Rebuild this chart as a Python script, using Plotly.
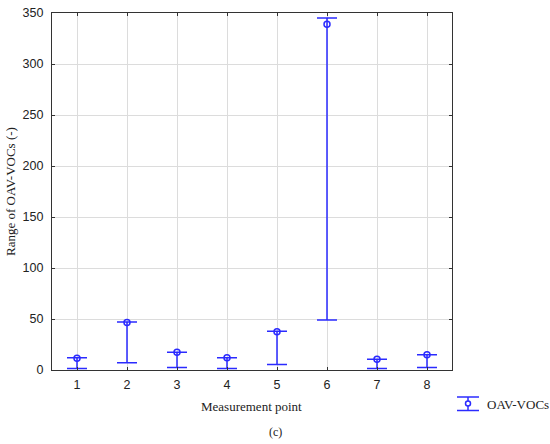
import plotly.graph_objects as go

points = [1, 2, 3, 4, 5, 6, 7, 8]
center = [11.5, 46.5, 17.5, 12, 37.5, 339, 10.5, 15]
upper = [12, 47, 17.5, 12, 38, 345, 10.5, 15]
lower = [1.5, 7, 2.5, 1.5, 5.5, 49, 1.5, 2.5]

err_plus = [u - c for u, c in zip(upper, center)]
err_minus = [c - l for c, l in zip(center, lower)]

blue = "#2b2bff"
serif = "Liberation Serif, Times New Roman"
sans = "Liberation Sans, Arial"

fig = go.Figure()
fig.add_trace(go.Scatter(
    x=points, y=center, mode="markers", name="OAV-VOCs",
    marker=dict(symbol="circle-open", size=6, color=blue, line=dict(width=1.5, color=blue)),
    error_y=dict(type="data", symmetric=False, array=err_plus, arrayminus=err_minus,
                 color=blue, thickness=1.5, width=10),
    showlegend=False,
))

W, H = 550, 444
# plot area in page pixels
L, R, T, B = 52, 452, 13, 370
def px(x):
    return (x - L) / (R - L)
def py(y):
    return (B - y) / (B - T)

shapes = [
    dict(type="line", xref="paper", yref="paper", x0=px(457), x1=px(479), y0=py(397), y1=py(397), line=dict(color=blue, width=1.5)),
    dict(type="line", xref="paper", yref="paper", x0=px(457), x1=px(479), y0=py(410.5), y1=py(410.5), line=dict(color=blue, width=1.5)),
    dict(type="line", xref="paper", yref="paper", x0=px(468), x1=px(468), y0=py(397), y1=py(410.5), line=dict(color=blue, width=1.5)),
    dict(type="circle", xref="paper", yref="paper", x0=px(465.5), x1=px(470.5), y0=py(401), y1=py(406),
         line=dict(color=blue, width=1.5), fillcolor="white"),
]

fig.update_layout(
    width=W, height=H,
    margin=dict(l=L, r=W - R, t=T, b=H - B, autoexpand=False),
    paper_bgcolor="white", plot_bgcolor="white",
    font=dict(family=sans, size=12, color="#222"),
    xaxis=dict(range=[0.5, 8.5], tickvals=points, ticktext=[str(p) for p in points],
               showgrid=True, gridcolor="#dcdcdc", gridwidth=1.2, automargin=False,
               showline=True, linecolor="#333", linewidth=1.2, mirror="ticks",
               ticks="inside", ticklen=3, tickcolor="#333", zeroline=False,
               ticklabelstandoff=3,
               tickfont=dict(family=sans, size=12.5, color="#222")),
    yaxis=dict(range=[0, 350], tickvals=[0, 50, 100, 150, 200, 250, 300, 350],
               showgrid=True, gridcolor="#dcdcdc", gridwidth=1.2, automargin=False,
               showline=True, linecolor="#333", linewidth=1.2, mirror="ticks",
               ticks="inside", ticklen=3, tickcolor="#333", zeroline=False,
               ticklabelstandoff=5,
               tickfont=dict(family=sans, size=12.5, color="#222")),
    shapes=shapes,
    annotations=[
        dict(text="Measurement point", xref="paper", yref="paper", x=px(251), y=py(406),
             xanchor="center", yanchor="middle", showarrow=False,
             font=dict(family=serif, size=13, color="#222")),
        dict(text="Range of OAV-VOCs (-)", xref="paper", yref="paper", x=px(10), y=py(192),
             xanchor="center", yanchor="middle", showarrow=False, textangle=-90,
             font=dict(family=serif, size=13, color="#222")),
        dict(text="OAV-VOCs", xref="paper", yref="paper", x=px(485), y=py(404),
             xanchor="left", yanchor="middle", showarrow=False,
             font=dict(family=serif, size=13, color="#222")),
        dict(text="(c)", xref="paper", yref="paper", x=px(275), y=py(432),
             xanchor="center", yanchor="middle", showarrow=False,
             font=dict(family=serif, size=12, color="#222")),
    ],
)

fig.write_html(
    "out.html",
    config={"displayModeBar": False},
    post_script="document.body.style.margin='0';document.body.style.padding='0';document.body.style.overflow='hidden';",
)
